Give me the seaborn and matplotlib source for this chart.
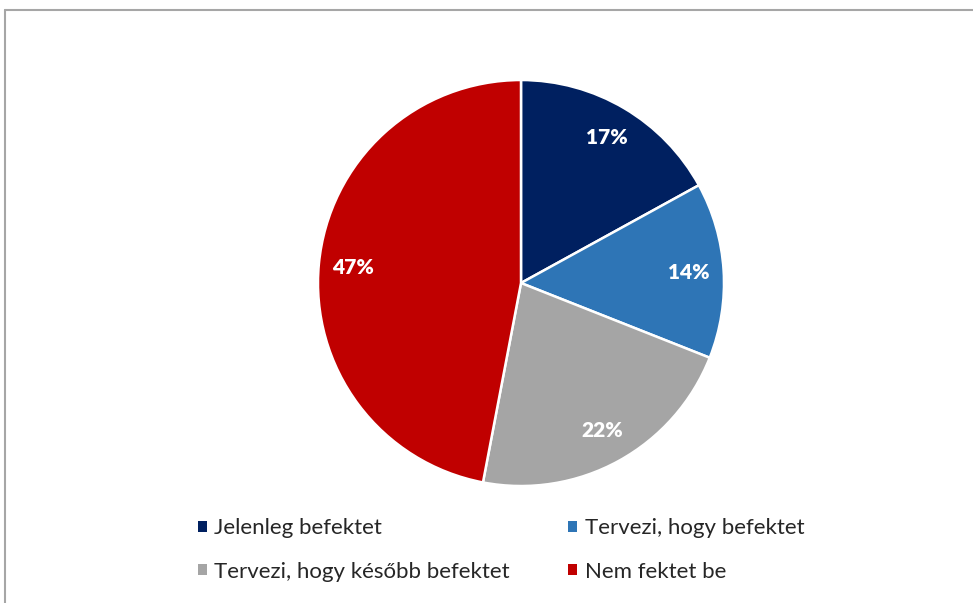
import matplotlib
matplotlib.use('Agg')
import seaborn as sns
import matplotlib.pyplot as plt
from matplotlib.patches import Patch
from matplotlib.lines import Line2D

# adatok
categories = ['Jelenleg befektet', 'Tervezi, hogy befektet',
              'Tervezi, hogy később befektet', 'Nem fektet be']
values = [17, 14, 22, 47]
colors = ['#002060', '#2E75B6', '#A5A5A5', '#C00000']

sns.set_style('white')
plt.rcParams['font.family'] = ['Lato', 'DejaVu Sans']

fig = plt.figure(figsize=(9.73, 6.03), dpi=100)
ax = fig.add_axes([0.3268, 0.194, 0.4173, 0.6733])

wedges, texts, autotexts = ax.pie(
    values, colors=colors, startangle=90, counterclock=False,
    autopct='%1.0f%%', pctdistance=0.83,
    wedgeprops=dict(edgecolor='white', linewidth=1.8),
    textprops=dict(color='white', fontsize=15, fontweight='heavy'))
ax.set_xlim(-1, 1)
ax.set_ylim(-1, 1)
ax.set_aspect('equal')
ax.axis('off')

# jelmagyarázat - soronként töltve, mint az Excelben
order = [0, 2, 1, 3]
handles = [Patch(facecolor=colors[i], edgecolor='none') for i in order]
labels = [categories[i] for i in order]
fig.legend(handles, labels, loc='center', ncol=2,
           bbox_to_anchor=(501 / 973, 1 - 550 / 603),
           frameon=False, fontsize=16,
           handlelength=0.4, handleheight=0.4, handletextpad=0.35,
           columnspacing=2.6, labelspacing=1.05)

# keret
fig.add_artist(Line2D([5 / 973, 1], [1 - 10 / 603, 1 - 10 / 603],
                      transform=fig.transFigure, color='#A6A6A6', lw=1.5))
fig.add_artist(Line2D([5 / 973, 5 / 973], [0, 1 - 10 / 603],
                      transform=fig.transFigure, color='#A6A6A6', lw=1.5))

fig.savefig('out.png', dpi=100, facecolor='white')
